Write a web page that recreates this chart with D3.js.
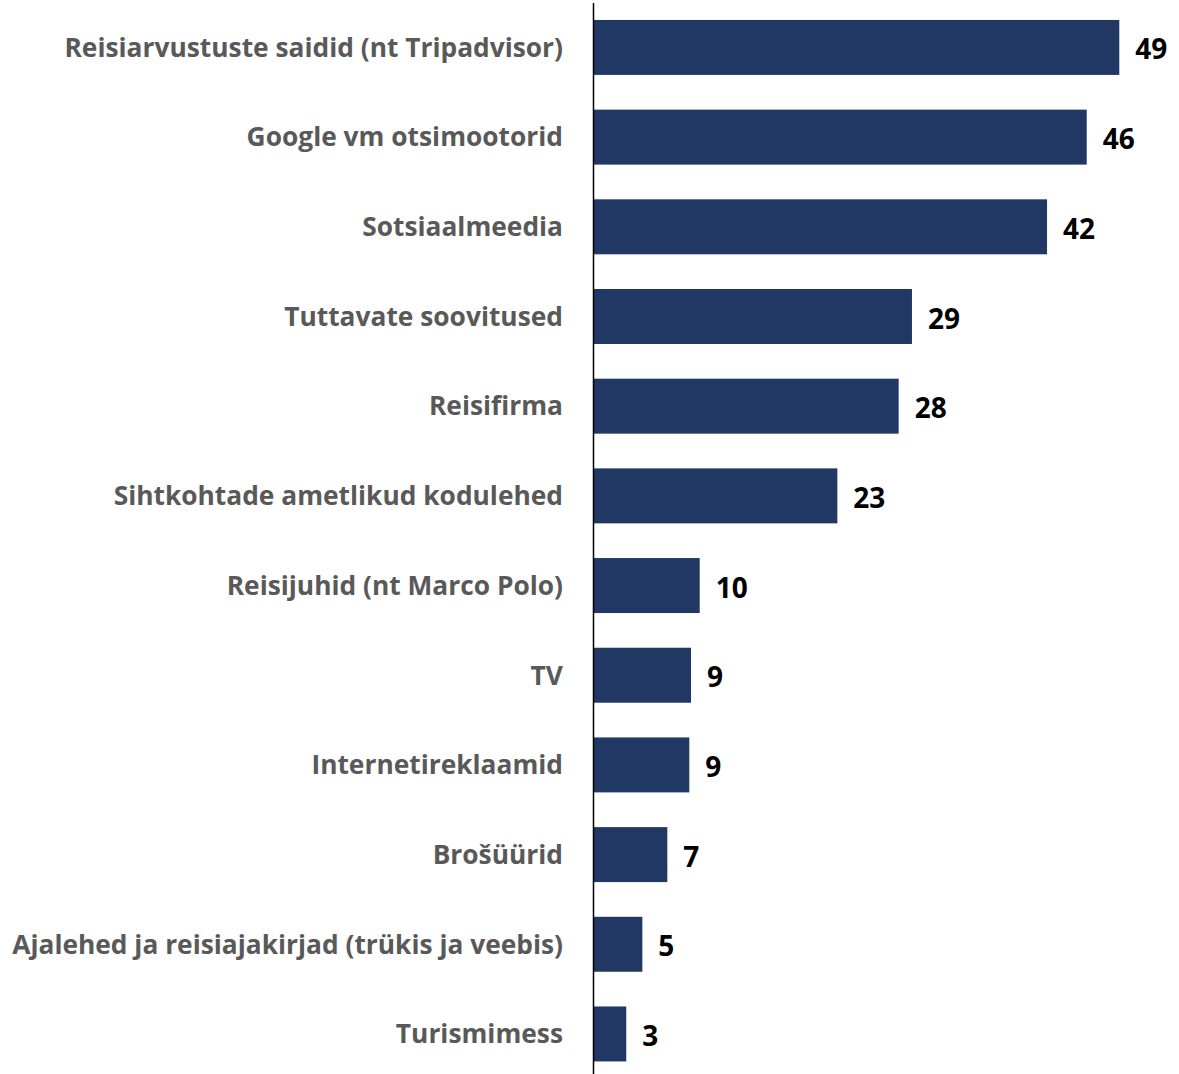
<!DOCTYPE html>
<html><head><meta charset="utf-8">
<script src="https://cdn.jsdelivr.net/npm/d3@7"></script>
<style>body{margin:0;background:#fff}svg{display:block}</style>
</head><body>
<script>
const categories = ["Reisiarvustuste saidid (nt Tripadvisor)","Google vm otsimootorid","Sotsiaalmeedia","Tuttavate soovitused","Reisifirma","Sihtkohtade ametlikud kodulehed","Reisijuhid (nt Marco Polo)","TV","Internetireklaamid","Brošüürid","Ajalehed ja reisiajakirjad (trükis ja veebis)","Turismimess"];
// bar lengths
const values = [49.0,45.96,42.26,29.66,28.42,22.70,9.86,9.05,8.89,6.84,4.51,3.01];
// value labels as printed
const valueLabels = ["49","46","42","29","28","23","10","9","9","7","5","3"];

const W = 1179, H = 1074;
const svg = d3.select("body").append("svg").attr("width", W).attr("height", H);
const x = d3.scaleLinear().domain([0, 49]).range([594, 1119.3]);
const y = d3.scaleBand().domain(categories).range([2.6, 1078.8]).paddingInner(0.387).paddingOuter(0.1935);

svg.selectAll("rect.bar").data(values).join("rect").attr("class","bar")
  .attr("x", x(0)).attr("y", (d,i)=>y(categories[i]))
  .attr("width", d=>x(d)-x(0)).attr("height", y.bandwidth())
  .attr("fill", "#213864");

svg.append("line").attr("x1",593.5).attr("x2",593.5).attr("y1",3).attr("y2",H).attr("stroke","#000").attr("stroke-width",1.5);

const font = "'Open Sans', sans-serif";
const catFs = 26.5;
const cats = svg.selectAll("text.cat").data(categories).join("text").attr("class","cat")
  .attr("x", 0).attr("y", 0).attr("dy","0.35em")
  .attr("text-anchor","end").attr("font-family",font).attr("font-weight",700)
  .attr("font-size",catFs).attr("fill","#595959").text(d=>d);
const w0 = cats.nodes()[0].getComputedTextLength();
const k = 499 / w0;
cats.attr("transform", d=>`translate(563,${y(d)+y.bandwidth()/2}) scale(${k},1)`);

svg.selectAll("text.val").data(values).join("text").attr("class","val")
  .attr("x", d=>x(d)+16).attr("y", (d,i)=>y(categories[i])+y.bandwidth()/2).attr("dy","0.43em")
  .attr("font-family",font).attr("font-weight",700)
  .attr("font-size",28).attr("fill","#000").text((d,i)=>valueLabels[i]);
</script>
</body></html>
